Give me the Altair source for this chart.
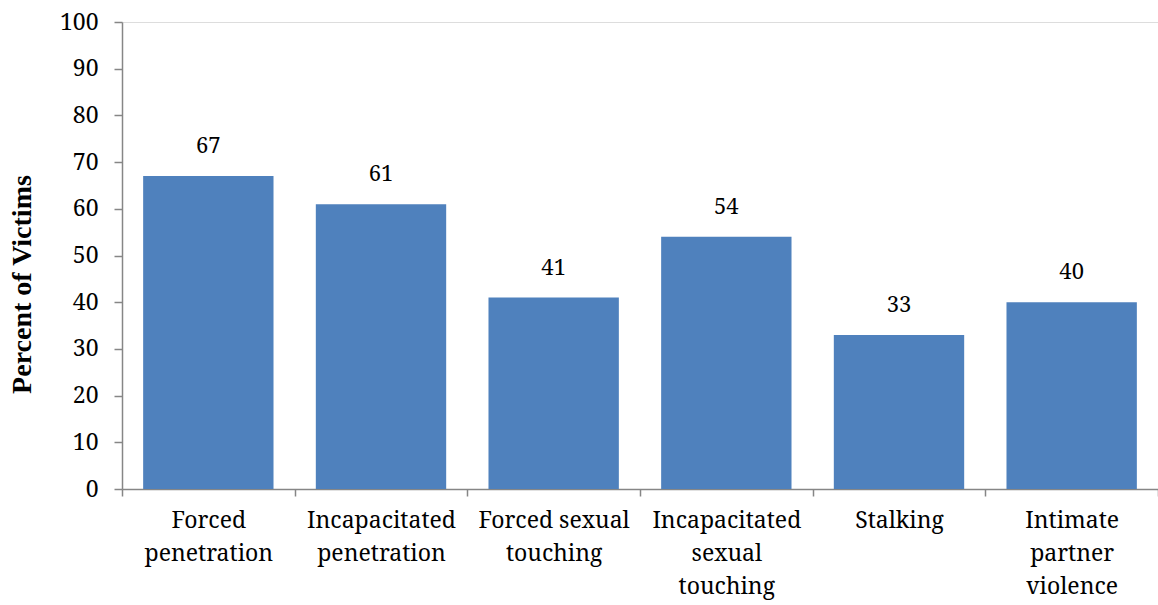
import altair as alt
import pandas as pd

categories = [
    "Forced|penetration",
    "Incapacitated|penetration",
    "Forced sexual|touching",
    "Incapacitated|sexual|touching",
    "Stalking",
    "Intimate|partner|violence",
]
values = [67, 61, 41, 54, 33, 40]

df = pd.DataFrame({"category": categories, "value": values})

FONT = "Noto Serif"
TITLE_FONT = "Liberation Serif"
GREY = "#868686"

x = alt.X(
    "category:N",
    sort=categories,
    title=None,
    scale=alt.Scale(paddingInner=0, paddingOuter=0),
    axis=alt.Axis(
        labelExpr="datum.value ? split(datum.value, '|') : ''",
        labelAngle=0,
        labelFont=FONT,
        labelFontSize=23,
        labelColor="black",
        labelLineHeight=33,
        labelPadding=13,
        labelBaseline="top",
        tickBand="extent",
        tickSize=7,
        tickColor=GREY,
        domainColor=GREY,
        domainWidth=1.5,
        tickWidth=1.5,
    ),
)

y = alt.Y(
    "value:Q",
    scale=alt.Scale(domain=[0, 100]),
    axis=alt.Axis(
        values=list(range(0, 101, 10)),
        title="Percent of Victims",
        titleFont=TITLE_FONT,
        titleFontSize=28,
        titleFontWeight="bold",
        titleColor="black",
        titleX=-100,
        titleY=262,
        titleAngle=-90,
        titleAlign="center",
        titleBaseline="middle",
        labelFont=FONT,
        labelFontSize=23,
        labelColor="black",
        labelPadding=16,
        tickSize=8,
        tickColor=GREY,
        domainColor=GREY,
        domainWidth=1.5,
        tickWidth=1.5,
        grid=False,
    ),
)

bars = alt.Chart(df).mark_bar(
    color="#4F81BD", width=alt.RelativeBandSize(0.755)
).encode(x=x, y=y)
labels = alt.Chart(df).mark_text(
    font=FONT, fontSize=22, color="black", baseline="bottom", dy=-18
).encode(x=alt.X("category:N", sort=categories), y="value:Q", text="value:Q")

chart = (
    alt.layer(bars, labels)
    .properties(
        width=1036,
        height=467,
        autosize=alt.AutoSizeParams(type="none"),
        padding={"left": 122, "top": 22, "right": 0, "bottom": 116},
    )
    .configure_view(stroke=None)
    .configure(background="white")
)

chart.save("out.html", embed_options={"renderer": "svg", "actions": False})
